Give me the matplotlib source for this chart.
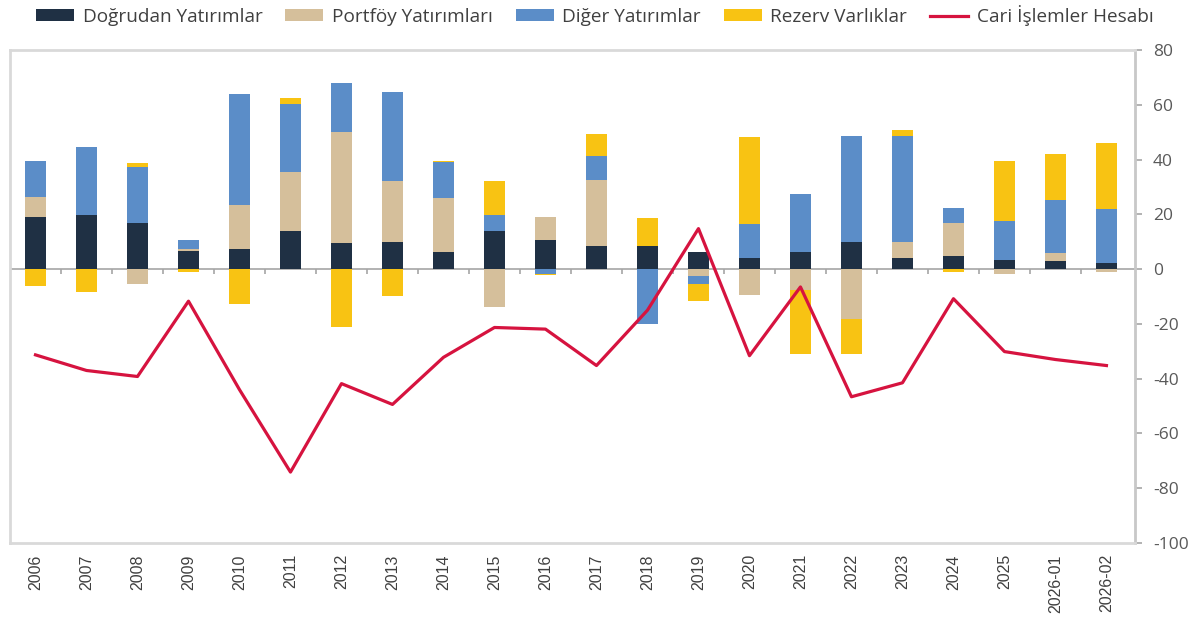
import numpy as np
import matplotlib
matplotlib.use("Agg")
import matplotlib.pyplot as plt

periods = ["2006", "2007", "2008", "2009", "2010", "2011", "2012", "2013", "2014",
           "2015", "2016", "2017", "2018", "2019", "2020", "2021", "2022", "2023",
           "2024", "2025", "2026-01", "2026-02"]

dogrudan = [19.0, 19.9, 16.8, 6.7, 7.3, 13.8, 9.4, 9.8, 6.4, 13.8, 10.6,
            8.4, 8.5, 6.3, 4.2, 6.4, 10.0, 4.2, 4.8, 3.4, 2.8, 2.4]
portfoy = [7.2, 0.0, -5.3, 0.5, 16.2, 21.7, 40.6, 22.5, 19.5, -13.7, 8.3,
           24.1, 0.0, -2.6, -9.6, -7.5, -18.3, 5.8, 12.0, -1.7, 3.0, -0.9]
diger = [13.3, 24.8, 20.6, 3.6, 40.3, 24.8, 17.8, 32.5, 13.2, 6.1, -1.6,
         8.7, -20.2, -2.8, 12.2, 21.1, 38.5, 38.5, 5.6, 14.1, 19.6, 19.4]
rezerv = [-6.0, -8.3, 1.3, -0.9, -12.7, 2.1, -21.0, -9.9, 0.4, 12.1, -0.4,
          8.0, 10.3, -6.4, 31.8, -23.5, -12.7, 2.2, -0.9, 22.0, 16.7, 24.3]
cari = [-31.3, -37.0, -39.2, -11.7, -44.0, -74.1, -41.8, -49.4, -32.2, -21.3, -21.9,
        -35.2, -15.0, 14.8, -31.6, -6.5, -46.6, -41.5, -10.8, -30.1, -33.0, -35.2]

series = [("Doğrudan Yatırımlar", dogrudan, "#1f3044"),
          ("Portföy Yatırımları", portfoy, "#d5bf9b"),
          ("Diğer Yatırımlar", diger, "#5b8dc8"),
          ("Rezerv Varlıklar", rezerv, "#f8c313")]

plt.rcParams["font.family"] = ["Open Sans", "DejaVu Sans"]
plt.rcParams["axes.unicode_minus"] = False

fig = plt.figure(figsize=(12.04, 6.39), dpi=100)
ax = fig.add_axes([0.0083, 0.1502, 0.9344, 0.7715])

x = np.arange(len(periods))
pos_base = np.zeros(len(periods))
neg_base = np.zeros(len(periods))
handles = []
for name, vals, color in series:
    v = np.array(vals)
    pos = np.where(v > 0, v, 0)
    neg = np.where(v < 0, v, 0)
    h = ax.bar(x, pos, 0.42, bottom=pos_base, color=color, label=name, zorder=2)
    ax.bar(x, neg, 0.42, bottom=neg_base, color=color, zorder=2)
    handles.append(h)
    pos_base += pos
    neg_base += neg

line, = ax.plot(x, cari, color="#d6133f", lw=2.3, label="Cari İşlemler Hesabı", zorder=3)
handles.append(line)

# zero line with small category separators
ax.axhline(0, color="#a6a6a6", lw=1.2, zorder=1)
ax.vlines(x[:-1] + 0.5, -1.9, 0, color="#a6a6a6", lw=1.2, zorder=1)

ax.set_xlim(-0.5, 21.56)
ax.set_ylim(-100, 80)
ax.set_yticks(np.arange(-100, 81, 20))
ax.yaxis.tick_right()
ax.tick_params(axis="y", colors="#a6a6a6", labelcolor="#595959", labelsize=12.5,
               length=5, width=1.2, pad=8)
ax.set_xticks(x)
ax.set_xticklabels(periods, rotation=90, family="Liberation Sans", fontsize=11.5,
                   color="#404040")
ax.tick_params(axis="x", length=0, pad=8)

for s in ax.spines.values():
    s.set_color("#d9d9d9")
    s.set_linewidth(2)
ax.spines["right"].set_color("#c8c8c8")

fig.legend(handles, [h.get_label() for h in handles], loc="center",
           bbox_to_anchor=(0.494, 0.976), ncol=5, frameon=False, fontsize=13.7,
           handlelength=2.0, handleheight=0.55, handletextpad=0.45,
           columnspacing=1.2, labelcolor="#404040")

fig.savefig("out.png", dpi=100)
